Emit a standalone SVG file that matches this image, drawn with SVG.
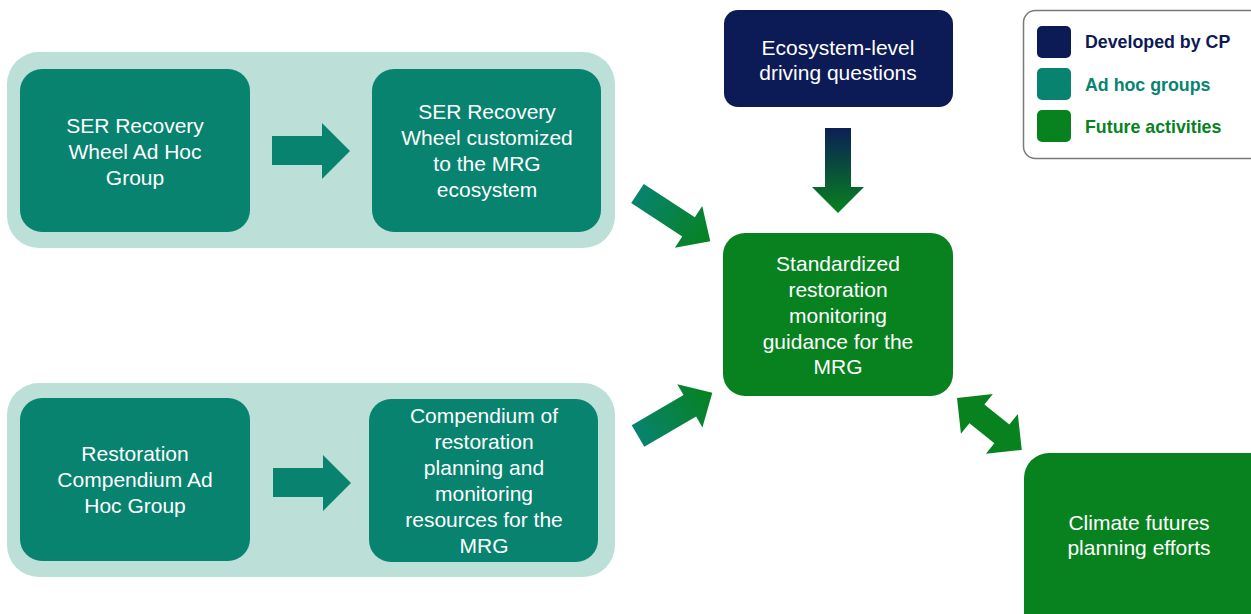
<svg xmlns="http://www.w3.org/2000/svg" width="1251" height="614" viewBox="0 0 1251 614">
<style>
text{font-family:"Liberation Sans",Arial,sans-serif;font-size:21px;fill:#ffffff;text-anchor:middle}
.panel{fill:#bcdfd8}
.teal{fill:#07836f}
.navy{fill:#0c1a55}
.green{fill:#07821f}
.lg{font-size:17.8px;font-weight:bold;text-anchor:start}
</style>
<defs>
<linearGradient id="gDown" x1="0" y1="0" x2="0" y2="1">
<stop offset="0" stop-color="#0c1f55"/><stop offset="1" stop-color="#07821f"/>
</linearGradient>
<linearGradient id="gDiag" x1="0" y1="0" x2="1" y2="0">
<stop offset="0" stop-color="#07836f"/><stop offset="1" stop-color="#07821f"/>
</linearGradient>
</defs>
<rect width="1251" height="614" fill="#ffffff"/>
<g id="panel-top"><rect class="panel" x="7" y="52" width="608" height="196" rx="32"/></g>
<g id="panel-bottom"><rect class="panel" x="7" y="383" width="608" height="194" rx="32"/></g>

<g id="node-ser-adhoc">
<rect class="teal" x="20" y="69" width="230" height="163" rx="22"/>
<text x="135" y="133">SER Recovery</text><text x="135" y="159">Wheel Ad Hoc</text><text x="135" y="185">Group</text>
</g>
<g id="node-ser-custom">
<rect class="teal" x="372" y="69" width="229" height="163" rx="22"/>
<text x="487" y="119">SER Recovery</text><text x="487" y="145">Wheel customized</text><text x="487" y="171">to the MRG</text><text x="487" y="197">ecosystem</text>
</g>
<g id="node-rest-adhoc">
<rect class="teal" x="20" y="398" width="230" height="163" rx="22"/>
<text x="135" y="461">Restoration</text><text x="135" y="487">Compendium Ad</text><text x="135" y="513">Hoc Group</text>
</g>
<g id="node-compendium">
<rect class="teal" x="369" y="399" width="229" height="163" rx="22"/>
<text x="484" y="423">Compendium of</text><text x="484" y="449">restoration</text><text x="484" y="475">planning and</text><text x="484" y="501">monitoring</text><text x="484" y="527">resources for the</text><text x="484" y="553">MRG</text>
</g>
<g id="node-ecosystem">
<rect class="navy" x="724" y="10" width="229" height="97" rx="14"/>
<text x="838" y="55">Ecosystem-level</text><text x="838" y="80">driving questions</text>
</g>
<g id="node-standardized">
<rect class="green" x="723" y="233" width="230" height="163" rx="22"/>
<text x="838" y="271">Standardized</text><text x="838" y="297">restoration</text><text x="838" y="323">monitoring</text><text x="838" y="349">guidance for the</text><text x="838" y="374">MRG</text>
</g>
<g id="node-climate">
<rect class="green" x="1024" y="453" width="250" height="190" rx="25"/>
<text x="1139" y="530">Climate futures</text><text x="1139" y="555">planning efforts</text>
</g>

<g id="connectors">
<polygon class="teal" points="272,136 322,136 322,123 350,151 322,179 322,165 272,165"/>
<polygon class="teal" points="273,468 323,468 323,455 351,483 323,511 323,497 273,497"/>
<polygon fill="url(#gDown)" points="825,128 851,128 851,187 864,187 838,213 812,187 825,187"/>
<polygon fill="url(#gDiag)" transform="translate(637.5,193.5) rotate(33.2)" points="0,-11.5 61,-11.5 61,-25 87,0 61,25 61,11.5 0,11.5"/>
<polygon fill="url(#gDiag)" transform="translate(638,436) rotate(-30.2)" points="0,-12.5 60,-12.5 60,-25 86,0 60,25 60,12.5 0,12.5"/>
<polygon class="green" transform="translate(957,398) rotate(38.7)" points="0,0 25.5,-25.5 25.5,-12 57.5,-12 57.5,-25.5 83,0 57.5,25.5 57.5,12 25.5,12 25.5,25.5"/>
</g>

<g id="legend">
<rect x="1023.5" y="10.5" width="240" height="148" rx="12" fill="#ffffff" stroke="#7a7a7a" stroke-width="1.5"/>
<rect class="navy" x="1037" y="26" width="34" height="32" rx="5"/>
<rect class="teal" x="1037" y="68" width="34" height="32" rx="5"/>
<rect class="green" x="1037" y="110" width="34" height="32" rx="5"/>
<text class="lg" x="1085" y="48" style="fill:#0c1a55">Developed by CP</text>
<text class="lg" x="1085" y="91" style="fill:#07836f">Ad hoc groups</text>
<text class="lg" x="1085" y="133" style="fill:#07821f">Future activities</text>
</g>
</svg>
